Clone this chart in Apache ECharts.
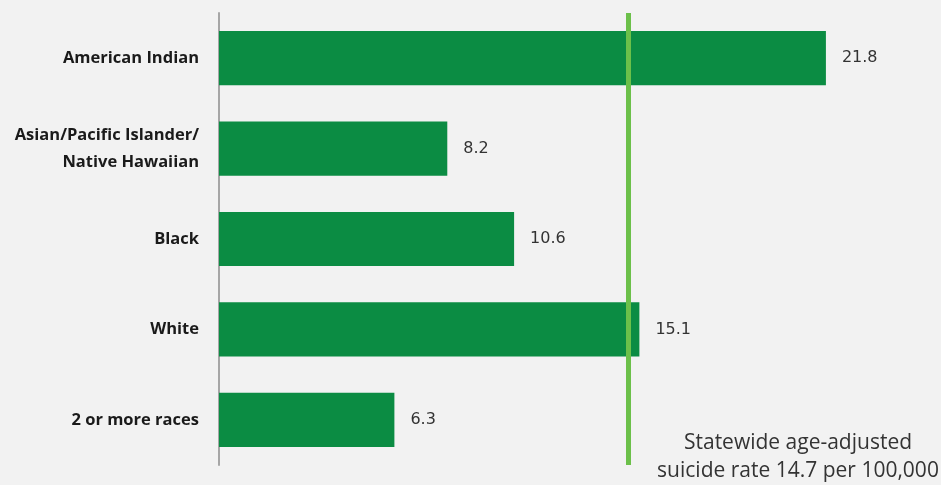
<!DOCTYPE html>
<html><head><meta charset="utf-8">
<script src="https://cdn.jsdelivr.net/npm/echarts@6/dist/echarts.min.js"></script>
<style>html,body{margin:0;padding:0;background:#f2f2f2;}#c{width:941px;height:485px;}</style>
</head><body><div id="c"></div>
<script>
const categories = ['American Indian', 'Asian/Pacific Islander/\nNative Hawaiian', 'Black', 'White', '2 or more races'];
const rates = [21.8, 8.2, 10.6, 15.1, 6.3];
const statewideRate = 14.7;
const noteLines = ['Statewide age-adjusted', 'suicide rate 14.7 per 100,000'];

const chart = echarts.init(document.getElementById('c'));
chart.setOption({
  backgroundColor: '#f2f2f2',
  animation: false,
  grid: { left: 219, right: 26, top: 13, bottom: 20, containLabel: false },
  xAxis: { type: 'value', min: 0, max: 25, show: false },
  yAxis: {
    type: 'category', data: categories, inverse: true,
    axisLine: { show: true, lineStyle: { color: '#a6a6a6', width: 2 } },
    axisTick: { show: false },
    axisLabel: { color: '#1a1a1a', fontFamily: 'Open Sans', fontWeight: 'bold', fontSize: 16.5, margin: 20, lineHeight: 27, align: 'right' }
  },
  series: [{
    type: 'bar', data: rates, barCategoryGap: '40%',
    itemStyle: { color: '#0b8c43' },
    label: { show: true, position: 'right', distance: 16, color: '#333', fontFamily: 'DejaVu Sans', fontSize: 16 },
    markLine: {
      symbol: 'none', silent: true,
      label: { show: false },
      lineStyle: { color: '#6cc04a', width: 5, type: 'solid' },
      data: [{ xAxis: statewideRate }]
    }
  }],
  graphic: [{
    type: 'text', x: 798, y: 429,
    style: { text: noteLines.join('\n'), align: 'center', verticalAlign: 'top', fill: '#333', fontFamily: 'Open Sans', fontSize: 21, lineHeight: 28 }
  }]
});
</script></body></html>
